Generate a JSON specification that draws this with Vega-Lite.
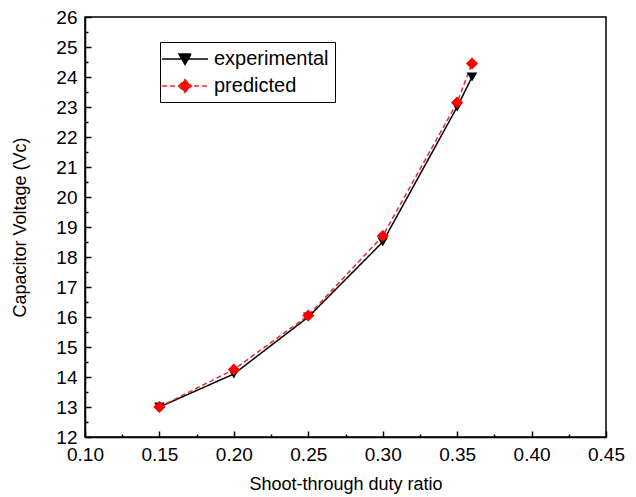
{
  "$schema": "https://vega.github.io/schema/vega-lite/v6.json",
  "width": 521,
  "height": 420,
  "autosize": {"type": "none"},
  "padding": {"left": 85, "top": 17, "right": 30, "bottom": 60},
  "background": "white",
  "config": {
    "view": {"stroke": "black", "strokeWidth": 1.5},
    "font": "Liberation Sans",
    "axis": {
      "grid": false,
      "domainColor": "black",
      "domainWidth": 1.5,
      "tickColor": "black",
      "tickWidth": 1.5,
      "labelFont": "Liberation Sans",
      "labelFontSize": 19,
      "labelColor": "black",
      "titleFont": "Liberation Sans",
      "titleFontSize": 18,
      "titleFontWeight": "normal",
      "titleColor": "black"
    },
    "legend": {
      "orient": "none",
      "legendX": 75,
      "legendY": 25,
      "strokeColor": "black",
      "fillColor": "white",
      "padding": 6,
      "symbolSize": 400,
      "symbolOffset": 8,
      "symbolStrokeWidth": 1.5,
      "symbolOpacity": 1,
      "labelFontSize": 20,
      "labelFont": "Liberation Sans",
      "labelColor": "black",
      "labelOffset": 18,
      "rowPadding": 6
    }
  },
  "data": {
    "values": [
      {"ratio": 0.15, "voltage": 13.0, "series": "experimental"},
      {"ratio": 0.20, "voltage": 14.1, "series": "experimental"},
      {"ratio": 0.25, "voltage": 16.0, "series": "experimental"},
      {"ratio": 0.30, "voltage": 18.5, "series": "experimental"},
      {"ratio": 0.35, "voltage": 23.0, "series": "experimental"},
      {"ratio": 0.36, "voltage": 24.0, "series": "experimental"},
      {"ratio": 0.15, "voltage": 13.0, "series": "predicted"},
      {"ratio": 0.20, "voltage": 14.25, "series": "predicted"},
      {"ratio": 0.25, "voltage": 16.05, "series": "predicted"},
      {"ratio": 0.30, "voltage": 18.7, "series": "predicted"},
      {"ratio": 0.35, "voltage": 23.15, "series": "predicted"},
      {"ratio": 0.36, "voltage": 24.45, "series": "predicted"}
    ]
  },
  "resolve": {
    "axis": {"x": "independent", "y": "independent"},
    "scale": {"shape": "independent", "fill": "independent", "stroke": "independent", "strokeDash": "independent"}
  },
  "layer": [
    {
      "mark": {"type": "line", "strokeWidth": 1.5},
      "encoding": {
        "x": {
          "field": "ratio", "type": "quantitative",
          "scale": {"domain": [0.10, 0.45], "nice": false, "zero": false},
          "axis": {
            "orient": "bottom",
            "title": "Shoot-through duty ratio",
            "values": [0.10, 0.15, 0.20, 0.25, 0.30, 0.35, 0.40, 0.45],
            "format": ".2f",
            "tickSize": -6,
            "labelPadding": 14,
            "titlePadding": 11,
            "labelFlush": false
          }
        },
        "y": {
          "field": "voltage", "type": "quantitative",
          "scale": {"domain": [12, 26], "nice": false, "zero": false},
          "axis": {
            "orient": "left",
            "title": "Capacitor Voltage (Vc)",
            "values": [12, 13, 14, 15, 16, 17, 18, 19, 20, 21, 22, 23, 24, 25, 26],
            "format": "d",
            "tickSize": -6,
            "labelPadding": 14,
            "titlePadding": 26,
            "labelFlush": false
          }
        },
        "color": {
          "field": "series", "type": "nominal",
          "scale": {"domain": ["experimental", "predicted"], "range": ["#000000", "#e52b2b"]},
          "legend": null
        },
        "strokeDash": {
          "field": "series", "type": "nominal",
          "scale": {"domain": ["experimental", "predicted"], "range": [[1, 0], [5, 3]]},
          "legend": null
        }
      }
    },
    {
      "mark": {"type": "point", "filled": true, "opacity": 1},
      "encoding": {
        "x": {"field": "ratio", "type": "quantitative", "axis": null},
        "y": {"field": "voltage", "type": "quantitative", "axis": null},
        "shape": {
          "field": "series", "type": "nominal",
          "scale": {"domain": ["experimental", "predicted"], "range": ["triangle-down", "diamond"]},
          "legend": null
        },
        "fill": {
          "field": "series", "type": "nominal",
          "scale": {"domain": ["experimental", "predicted"], "range": ["#000000", "#ff0000"]},
          "legend": null
        },
        "size": {
          "field": "series", "type": "nominal",
          "scale": {"domain": ["experimental", "predicted"], "range": [110, 150]},
          "legend": null
        }
      }
    },
    {
      "mark": {"type": "point", "filled": true, "opacity": 0, "strokeWidth": 1.5},
      "encoding": {
        "x": {"field": "ratio", "type": "quantitative", "axis": null},
        "y": {"field": "voltage", "type": "quantitative", "axis": null},
        "shape": {
          "field": "series", "type": "nominal",
          "scale": {"domain": ["experimental", "predicted"], "range": ["M-2.3,0H2.3M-0.6,-0.5L0.6,-0.5L0,0.55Z", "M-2.3,0H2.3M-0.65,0L0,-0.65L0.65,0L0,0.65Z"]},
          "legend": {"title": null}
        },
        "fill": {
          "field": "series", "type": "nominal",
          "scale": {"domain": ["experimental", "predicted"], "range": ["#000000", "#ff0000"]},
          "legend": {"title": null}
        },
        "stroke": {
          "field": "series", "type": "nominal",
          "scale": {"domain": ["experimental", "predicted"], "range": ["#000000", "#e52b2b"]},
          "legend": {"title": null}
        },
        "strokeDash": {
          "field": "series", "type": "nominal",
          "scale": {"domain": ["experimental", "predicted"], "range": [[1, 0], [5, 3]]},
          "legend": {"title": null}
        }
      }
    },
    {
      "mark": {"type": "point", "opacity": 0},
      "encoding": {
        "x": {
          "field": "ratio", "type": "quantitative",
          "axis": {
            "orient": "bottom",
            "title": null,
            "labels": false,
            "domain": false,
            "values": [0.125, 0.175, 0.225, 0.275, 0.325, 0.375, 0.425],
            "tickSize": -3
          }
        },
        "y": {
          "field": "voltage", "type": "quantitative",
          "axis": {
            "orient": "left",
            "title": null,
            "labels": false,
            "domain": false,
            "values": [12.5, 13.5, 14.5, 15.5, 16.5, 17.5, 18.5, 19.5, 20.5, 21.5, 22.5, 23.5, 24.5, 25.5],
            "tickSize": -3
          }
        }
      }
    }
  ]
}
